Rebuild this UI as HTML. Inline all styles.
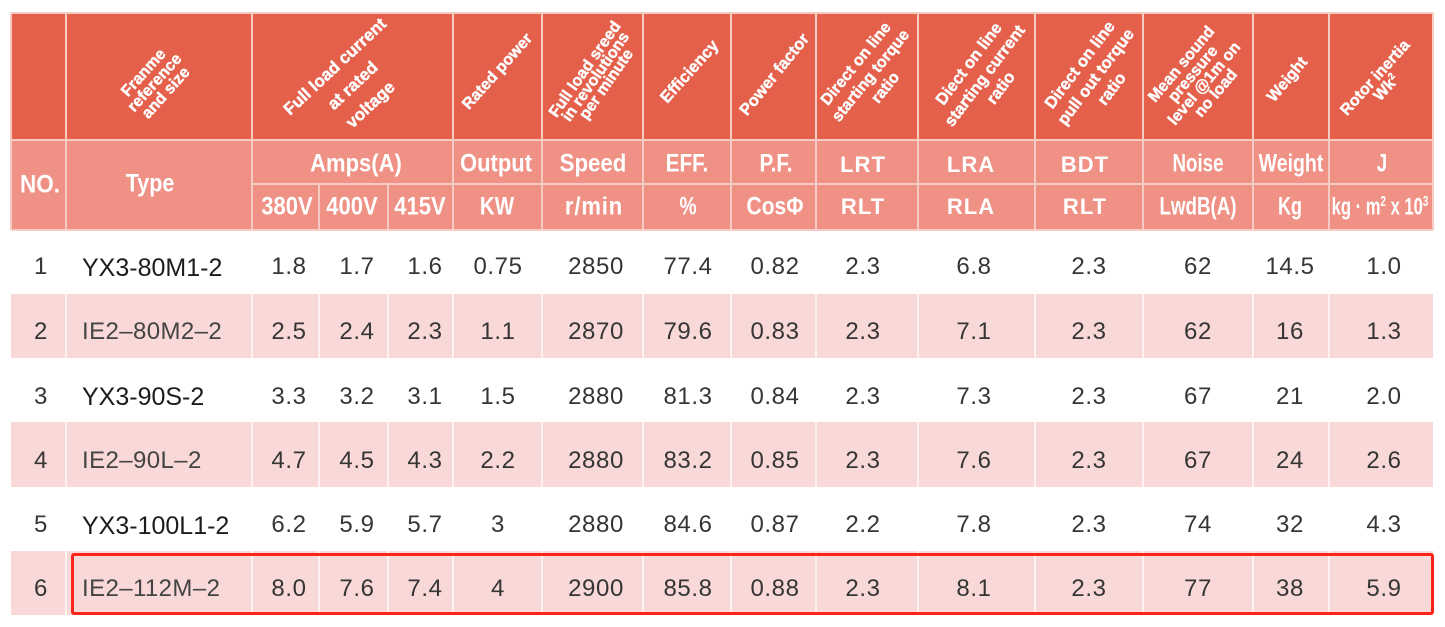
<!DOCTYPE html>
<html><head><meta charset="utf-8"><style>
html,body{margin:0;padding:0;background:#fff;}
body{width:1445px;height:627px;position:relative;overflow:hidden;font-family:"Liberation Sans",sans-serif;}
.ab{position:absolute;}
.c{position:absolute;width:0;height:0;}
.r{position:absolute;left:0;top:0;white-space:nowrap;text-align:center;color:#fff;font-weight:bold;font-size:16px;-webkit-text-stroke:0.4px #fff;}
.s{position:absolute;left:0;top:0;white-space:nowrap;color:#fff;font-weight:bold;font-size:25px;line-height:25px;}
.w{position:absolute;left:0;top:0;white-space:nowrap;color:#fff;font-weight:bold;font-size:22px;line-height:22px;letter-spacing:1px;transform:translate(-50%,-50%);}
.d{position:absolute;left:0;top:0;white-space:nowrap;font-size:24px;line-height:24px;color:#353535;letter-spacing:.6px;transform:translate(-50%,-50%);}
.vl{position:absolute;width:2px;background:#F6CBC3;}
.pv{position:absolute;width:2px;background:#FDF1F1;}
.t{position:absolute;left:82px;white-space:nowrap;line-height:26px;}
.yx{font-size:25px;color:#1c1c1c;}
.ie{font-size:24px;color:#444;letter-spacing:.4px;}
sup{font-size:60%;line-height:0;vertical-align:0.6em;}
</style></head><body>

<!-- header backgrounds -->
<div class="ab" style="left:11px;top:13px;width:1422px;height:127px;background:#E4604B;"></div>
<div class="ab" style="left:11px;top:140px;width:1422px;height:90px;background:#EF9185;"></div>
<!-- header outline -->
<div class="ab" style="left:11px;top:12px;width:1422px;height:2px;background:#F6CBC3;"></div>
<div class="ab" style="left:10px;top:13px;width:2px;height:217px;background:#F6CBC3;"></div>
<div class="ab" style="left:1432px;top:13px;width:2px;height:217px;background:#F6CBC3;"></div>
<div class="ab" style="left:11px;top:139px;width:1422px;height:2px;background:#F6CBC3;"></div>
<div class="ab" style="left:252px;top:183px;width:1181px;height:2px;background:#F6CBC3;"></div>
<div class="ab" style="left:11px;top:229px;width:1422px;height:2px;background:#F6CBC3;"></div>
<!-- header vertical lines -->
<div class="vl" style="left:65px;top:13px;height:217px"></div>
<div class="vl" style="left:251px;top:13px;height:217px"></div>
<div class="vl" style="left:318px;top:184px;height:46px"></div>
<div class="vl" style="left:387px;top:184px;height:46px"></div>
<div class="vl" style="left:452px;top:13px;height:217px"></div>
<div class="vl" style="left:541px;top:13px;height:217px"></div>
<div class="vl" style="left:642px;top:13px;height:217px"></div>
<div class="vl" style="left:730px;top:13px;height:217px"></div>
<div class="vl" style="left:815px;top:13px;height:217px"></div>
<div class="vl" style="left:917px;top:13px;height:217px"></div>
<div class="vl" style="left:1034px;top:13px;height:217px"></div>
<div class="vl" style="left:1142px;top:13px;height:217px"></div>
<div class="vl" style="left:1252px;top:13px;height:217px"></div>
<div class="vl" style="left:1328px;top:13px;height:217px"></div>

<!-- rotated header texts -->
<div class="c" style="left:155px;top:83px"><div class="r" style="line-height:15px;transform:translate(-50%,-50%) rotate(-48deg)">Franme<br>reference<br>and size</div></div>
<div class="c" style="left:353px;top:86px"><div class="r" style="font-size:17px;line-height:26px;transform:translate(-50%,-50%) rotate(-43deg)">Full load current<br>at rated<br>voltage</div></div>
<div class="c" style="left:498px;top:72px"><div class="r" style="transform:translate(-50%,-50%) rotate(-48deg)">Rated power</div></div>
<div class="c" style="left:596px;top:77px"><div class="r" style="line-height:13px;transform:translate(-50%,-50%) rotate(-55deg)">Full load sreed<br>in revolutions<br>per minute</div></div>
<div class="c" style="left:690px;top:72px"><div class="r" style="font-size:16.5px;transform:translate(-50%,-50%) rotate(-48deg)">Efficiency</div></div>
<div class="c" style="left:775px;top:75px"><div class="r" style="font-size:16.5px;transform:translate(-50%,-50%) rotate(-51deg)">Power factor</div></div>
<div class="c" style="left:871px;top:76px"><div class="r" style="line-height:19px;transform:translate(-50%,-50%) rotate(-51deg)">Direct on line<br>starting torque<br>ratio</div></div>
<div class="c" style="left:985px;top:76px"><div class="r" style="font-size:16.5px;line-height:20px;transform:translate(-50%,-50%) rotate(-53deg)">Diect on line<br>starting current<br>ratio</div></div>
<div class="c" style="left:1096px;top:77px"><div class="r" style="font-size:16.5px;line-height:20px;transform:translate(-50%,-50%) rotate(-53deg)">Direct on line<br>pull out torque<br>ratio</div></div>
<div class="c" style="left:1199px;top:79px"><div class="r" style="line-height:15px;transform:translate(-50%,-50%) rotate(-50deg)">Mean sound<br>pressure<br>level @1m on<br>no load</div></div>
<div class="c" style="left:1288px;top:80px"><div class="r" style="transform:translate(-50%,-50%) rotate(-50deg)">Weight</div></div>
<div class="c" style="left:1381px;top:83px"><div class="r" style="line-height:15px;transform:translate(-50%,-50%) rotate(-48deg)">Rotor inertia<br>Wk<sup>2</sup></div></div>

<!-- sub header row A -->
<div class="c" style="left:40px;top:185px"><span class="s" style="transform:translate(-50%,-50%) scaleX(0.9)">NO.</span></div>
<div class="c" style="left:150px;top:184px"><span class="s" style="transform:translate(-50%,-50%) scaleX(0.86)">Type</span></div>
<div class="c" style="left:356px;top:164px"><span class="s" style="transform:translate(-50%,-50%) scaleX(0.88)">Amps(A)</span></div>
<div class="c" style="left:496px;top:164px"><span class="s" style="transform:translate(-50%,-50%) scaleX(0.88)">Output</span></div>
<div class="c" style="left:593px;top:164px"><span class="s" style="transform:translate(-50%,-50%) scaleX(0.89)">Speed</span></div>
<div class="c" style="left:687px;top:164px"><span class="s" style="transform:translate(-50%,-50%) scaleX(0.83)">EFF.</span></div>
<div class="c" style="left:776px;top:164px"><span class="s" style="transform:translate(-50%,-50%) scaleX(0.83)">P.F.</span></div>
<div class="c" style="left:863px;top:165px"><span class="w">LRT</span></div>
<div class="c" style="left:971px;top:165px"><span class="w">LRA</span></div>
<div class="c" style="left:1085px;top:165px"><span class="w">BDT</span></div>
<div class="c" style="left:1198px;top:164px"><span class="s" style="transform:translate(-50%,-50%) scaleX(0.75)">Noise</span></div>
<div class="c" style="left:1291px;top:164px"><span class="s" style="transform:translate(-50%,-50%) scaleX(0.78)">Weight</span></div>
<div class="c" style="left:1382px;top:164px"><span class="s" style="transform:translate(-50%,-50%) scaleX(0.75)">J</span></div>

<!-- sub header row B -->
<div class="c" style="left:287px;top:207px"><span class="s" style="transform:translate(-50%,-50%) scaleX(0.88)">380V</span></div>
<div class="c" style="left:352px;top:207px"><span class="s" style="transform:translate(-50%,-50%) scaleX(0.88)">400V</span></div>
<div class="c" style="left:420px;top:207px"><span class="s" style="transform:translate(-50%,-50%) scaleX(0.88)">415V</span></div>
<div class="c" style="left:497px;top:207px"><span class="s" style="transform:translate(-50%,-50%) scaleX(0.82)">KW</span></div>
<div class="c" style="left:594px;top:207px"><span class="s" style="letter-spacing:1px;transform:translate(-50%,-50%) scaleX(0.88)">r/min</span></div>
<div class="c" style="left:688px;top:207px"><span class="s" style="transform:translate(-50%,-50%) scaleX(0.77)">%</span></div>
<div class="c" style="left:775px;top:207px"><span class="s" style="transform:translate(-50%,-50%) scaleX(0.84)">CosΦ</span></div>
<div class="c" style="left:863px;top:207px"><span class="w">RLT</span></div>
<div class="c" style="left:971px;top:207px"><span class="w">RLA</span></div>
<div class="c" style="left:1085px;top:207px"><span class="w">RLT</span></div>
<div class="c" style="left:1198px;top:207px"><span class="s" style="transform:translate(-50%,-50%) scaleX(0.75)">LwdB(A)</span></div>
<div class="c" style="left:1290px;top:207px"><span class="s" style="transform:translate(-50%,-50%) scaleX(0.72)">Kg</span></div>
<div class="c" style="left:1380px;top:207px"><span class="s" style="font-size:24px;transform:translate(-50%,-50%) scaleX(0.69)">kg · m<sup>2</sup> x 10<sup>3</sup></span></div>

<!-- pink rows -->
<div class="ab" style="left:11px;top:294px;width:1422px;height:64px;background:#F9D8D8;"></div>
<div class="ab" style="left:11px;top:422px;width:1422px;height:65px;background:#F9D8D8;"></div>
<div class="ab" style="left:11px;top:551px;width:1422px;height:64px;background:#F9D8D8;"></div>
<!-- pink row separators -->
<div class="pv" style="left:65px;top:294px;height:64px"></div><div class="pv" style="left:251px;top:294px;height:64px"></div><div class="pv" style="left:318px;top:294px;height:64px"></div><div class="pv" style="left:387px;top:294px;height:64px"></div><div class="pv" style="left:452px;top:294px;height:64px"></div><div class="pv" style="left:541px;top:294px;height:64px"></div><div class="pv" style="left:642px;top:294px;height:64px"></div><div class="pv" style="left:730px;top:294px;height:64px"></div><div class="pv" style="left:815px;top:294px;height:64px"></div><div class="pv" style="left:917px;top:294px;height:64px"></div><div class="pv" style="left:1034px;top:294px;height:64px"></div><div class="pv" style="left:1142px;top:294px;height:64px"></div><div class="pv" style="left:1252px;top:294px;height:64px"></div><div class="pv" style="left:1328px;top:294px;height:64px"></div>
<div class="pv" style="left:65px;top:422px;height:65px"></div><div class="pv" style="left:251px;top:422px;height:65px"></div><div class="pv" style="left:318px;top:422px;height:65px"></div><div class="pv" style="left:387px;top:422px;height:65px"></div><div class="pv" style="left:452px;top:422px;height:65px"></div><div class="pv" style="left:541px;top:422px;height:65px"></div><div class="pv" style="left:642px;top:422px;height:65px"></div><div class="pv" style="left:730px;top:422px;height:65px"></div><div class="pv" style="left:815px;top:422px;height:65px"></div><div class="pv" style="left:917px;top:422px;height:65px"></div><div class="pv" style="left:1034px;top:422px;height:65px"></div><div class="pv" style="left:1142px;top:422px;height:65px"></div><div class="pv" style="left:1252px;top:422px;height:65px"></div><div class="pv" style="left:1328px;top:422px;height:65px"></div>
<div class="pv" style="left:65px;top:551px;height:64px"></div><div class="pv" style="left:251px;top:551px;height:64px"></div><div class="pv" style="left:318px;top:551px;height:64px"></div><div class="pv" style="left:387px;top:551px;height:64px"></div><div class="pv" style="left:452px;top:551px;height:64px"></div><div class="pv" style="left:541px;top:551px;height:64px"></div><div class="pv" style="left:642px;top:551px;height:64px"></div><div class="pv" style="left:730px;top:551px;height:64px"></div><div class="pv" style="left:815px;top:551px;height:64px"></div><div class="pv" style="left:917px;top:551px;height:64px"></div><div class="pv" style="left:1034px;top:551px;height:64px"></div><div class="pv" style="left:1142px;top:551px;height:64px"></div><div class="pv" style="left:1252px;top:551px;height:64px"></div><div class="pv" style="left:1328px;top:551px;height:64px"></div>

<!-- Row 1 (cy 267) -->
<div class="c" style="left:41px;top:267px"><span class="d">1</span></div>
<div class="t yx" style="top:255px">YX3-80M1-2</div>
<div class="c" style="left:289px;top:267px"><span class="d">1.8</span></div>
<div class="c" style="left:357px;top:267px"><span class="d">1.7</span></div>
<div class="c" style="left:425px;top:267px"><span class="d">1.6</span></div>
<div class="c" style="left:498px;top:267px"><span class="d">0.75</span></div>
<div class="c" style="left:596px;top:267px"><span class="d">2850</span></div>
<div class="c" style="left:688px;top:267px"><span class="d">77.4</span></div>
<div class="c" style="left:775px;top:267px"><span class="d">0.82</span></div>
<div class="c" style="left:863px;top:267px"><span class="d">2.3</span></div>
<div class="c" style="left:974px;top:267px"><span class="d">6.8</span></div>
<div class="c" style="left:1089px;top:267px"><span class="d">2.3</span></div>
<div class="c" style="left:1198px;top:267px"><span class="d">62</span></div>
<div class="c" style="left:1290px;top:267px"><span class="d">14.5</span></div>
<div class="c" style="left:1384px;top:267px"><span class="d">1.0</span></div>

<!-- Row 2 (cy 331.5) -->
<div class="c" style="left:41px;top:331.5px"><span class="d">2</span></div>
<div class="t ie" style="top:319px">IE2–80M2–2</div>
<div class="c" style="left:289px;top:331.5px"><span class="d">2.5</span></div>
<div class="c" style="left:357px;top:331.5px"><span class="d">2.4</span></div>
<div class="c" style="left:425px;top:331.5px"><span class="d">2.3</span></div>
<div class="c" style="left:498px;top:331.5px"><span class="d">1.1</span></div>
<div class="c" style="left:596px;top:331.5px"><span class="d">2870</span></div>
<div class="c" style="left:688px;top:331.5px"><span class="d">79.6</span></div>
<div class="c" style="left:775px;top:331.5px"><span class="d">0.83</span></div>
<div class="c" style="left:863px;top:331.5px"><span class="d">2.3</span></div>
<div class="c" style="left:974px;top:331.5px"><span class="d">7.1</span></div>
<div class="c" style="left:1089px;top:331.5px"><span class="d">2.3</span></div>
<div class="c" style="left:1198px;top:331.5px"><span class="d">62</span></div>
<div class="c" style="left:1290px;top:331.5px"><span class="d">16</span></div>
<div class="c" style="left:1384px;top:331.5px"><span class="d">1.3</span></div>

<!-- Row 3 (cy 396.5) -->
<div class="c" style="left:41px;top:396.5px"><span class="d">3</span></div>
<div class="t yx" style="top:384px">YX3-90S-2</div>
<div class="c" style="left:289px;top:396.5px"><span class="d">3.3</span></div>
<div class="c" style="left:357px;top:396.5px"><span class="d">3.2</span></div>
<div class="c" style="left:425px;top:396.5px"><span class="d">3.1</span></div>
<div class="c" style="left:498px;top:396.5px"><span class="d">1.5</span></div>
<div class="c" style="left:596px;top:396.5px"><span class="d">2880</span></div>
<div class="c" style="left:688px;top:396.5px"><span class="d">81.3</span></div>
<div class="c" style="left:775px;top:396.5px"><span class="d">0.84</span></div>
<div class="c" style="left:863px;top:396.5px"><span class="d">2.3</span></div>
<div class="c" style="left:974px;top:396.5px"><span class="d">7.3</span></div>
<div class="c" style="left:1089px;top:396.5px"><span class="d">2.3</span></div>
<div class="c" style="left:1198px;top:396.5px"><span class="d">67</span></div>
<div class="c" style="left:1290px;top:396.5px"><span class="d">21</span></div>
<div class="c" style="left:1384px;top:396.5px"><span class="d">2.0</span></div>

<!-- Row 4 (cy 461) -->
<div class="c" style="left:41px;top:461px"><span class="d">4</span></div>
<div class="t ie" style="top:448px">IE2–90L–2</div>
<div class="c" style="left:289px;top:461px"><span class="d">4.7</span></div>
<div class="c" style="left:357px;top:461px"><span class="d">4.5</span></div>
<div class="c" style="left:425px;top:461px"><span class="d">4.3</span></div>
<div class="c" style="left:498px;top:461px"><span class="d">2.2</span></div>
<div class="c" style="left:596px;top:461px"><span class="d">2880</span></div>
<div class="c" style="left:688px;top:461px"><span class="d">83.2</span></div>
<div class="c" style="left:775px;top:461px"><span class="d">0.85</span></div>
<div class="c" style="left:863px;top:461px"><span class="d">2.3</span></div>
<div class="c" style="left:974px;top:461px"><span class="d">7.6</span></div>
<div class="c" style="left:1089px;top:461px"><span class="d">2.3</span></div>
<div class="c" style="left:1198px;top:461px"><span class="d">67</span></div>
<div class="c" style="left:1290px;top:461px"><span class="d">24</span></div>
<div class="c" style="left:1384px;top:461px"><span class="d">2.6</span></div>

<!-- Row 5 (cy 525) -->
<div class="c" style="left:41px;top:525px"><span class="d">5</span></div>
<div class="t yx" style="top:513px">YX3-100L1-2</div>
<div class="c" style="left:289px;top:525px"><span class="d">6.2</span></div>
<div class="c" style="left:357px;top:525px"><span class="d">5.9</span></div>
<div class="c" style="left:425px;top:525px"><span class="d">5.7</span></div>
<div class="c" style="left:498px;top:525px"><span class="d">3</span></div>
<div class="c" style="left:596px;top:525px"><span class="d">2880</span></div>
<div class="c" style="left:688px;top:525px"><span class="d">84.6</span></div>
<div class="c" style="left:775px;top:525px"><span class="d">0.87</span></div>
<div class="c" style="left:863px;top:525px"><span class="d">2.2</span></div>
<div class="c" style="left:974px;top:525px"><span class="d">7.8</span></div>
<div class="c" style="left:1089px;top:525px"><span class="d">2.3</span></div>
<div class="c" style="left:1198px;top:525px"><span class="d">74</span></div>
<div class="c" style="left:1290px;top:525px"><span class="d">32</span></div>
<div class="c" style="left:1384px;top:525px"><span class="d">4.3</span></div>

<!-- Row 6 (cy 588.5) -->
<div class="c" style="left:41px;top:588.5px"><span class="d">6</span></div>
<div class="t ie" style="top:576px">IE2–112M–2</div>
<div class="c" style="left:289px;top:588.5px"><span class="d">8.0</span></div>
<div class="c" style="left:357px;top:588.5px"><span class="d">7.6</span></div>
<div class="c" style="left:425px;top:588.5px"><span class="d">7.4</span></div>
<div class="c" style="left:498px;top:588.5px"><span class="d">4</span></div>
<div class="c" style="left:596px;top:588.5px"><span class="d">2900</span></div>
<div class="c" style="left:688px;top:588.5px"><span class="d">85.8</span></div>
<div class="c" style="left:775px;top:588.5px"><span class="d">0.88</span></div>
<div class="c" style="left:863px;top:588.5px"><span class="d">2.3</span></div>
<div class="c" style="left:974px;top:588.5px"><span class="d">8.1</span></div>
<div class="c" style="left:1089px;top:588.5px"><span class="d">2.3</span></div>
<div class="c" style="left:1198px;top:588.5px"><span class="d">77</span></div>
<div class="c" style="left:1290px;top:588.5px"><span class="d">38</span></div>
<div class="c" style="left:1384px;top:588.5px"><span class="d">5.9</span></div>

<!-- red highlight box -->
<div class="ab" style="left:71px;top:553px;width:1357px;height:56px;border:3px solid #FF2419;border-radius:3px;"></div>

</body></html>
